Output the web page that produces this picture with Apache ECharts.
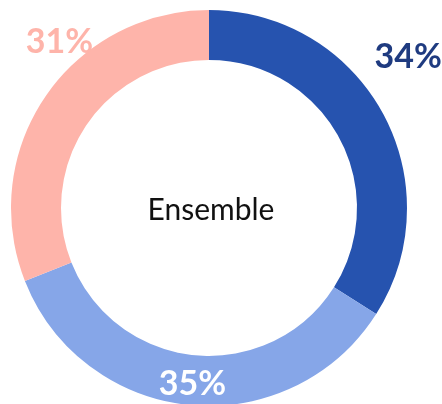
<!DOCTYPE html>
<html><head><meta charset="utf-8">
<script src="https://cdn.jsdelivr.net/npm/echarts@6/dist/echarts.min.js"></script>
<style>html,body{margin:0;padding:0;background:#fff}#c{width:442px;height:404px}</style>
</head><body><div id="c"></div>
<script>
var categories = ['A', 'B', 'C'];
var values = [34, 35, 31];
var labels = ['34%', '35%', '31%'];
var centerText = 'Ensemble';

var colors = ['#2653AF', '#86A6E8', '#FEB4AA'];
var labelColors = ['#1F3B80', '#FFFFFF', '#FEB4AA'];
var labelOffsets = [[45, -66], [0, 1], [-4, -67]];

var chart = echarts.init(document.getElementById('c'));
chart.setOption({
  animation: false,
  graphic: [{
    type: 'text',
    style: { text: centerText, x: 211, y: 210, align: 'center', verticalAlign: 'middle',
      font: '400 30px Lato', fill: '#111' }
  }],
  series: [{
    type: 'pie',
    center: [209, 208],
    radius: [148, 198],
    startAngle: 90,
    clockwise: true,
    silent: true,
    labelLine: { show: false },
    label: {
      show: true, position: 'inside',
      fontFamily: 'Lato', fontWeight: 'bold', fontSize: 34,
      formatter: function (p) { return labels[p.dataIndex]; }
    },
    labelLayout: function (p) {
      var o = labelOffsets[p.dataIndex];
      return { dx: o[0], dy: o[1] };
    },
    data: categories.map(function (c, i) {
      return { name: c, value: values[i], itemStyle: { color: colors[i] },
        label: { color: labelColors[i] } };
    })
  }]
});
</script></body></html>
